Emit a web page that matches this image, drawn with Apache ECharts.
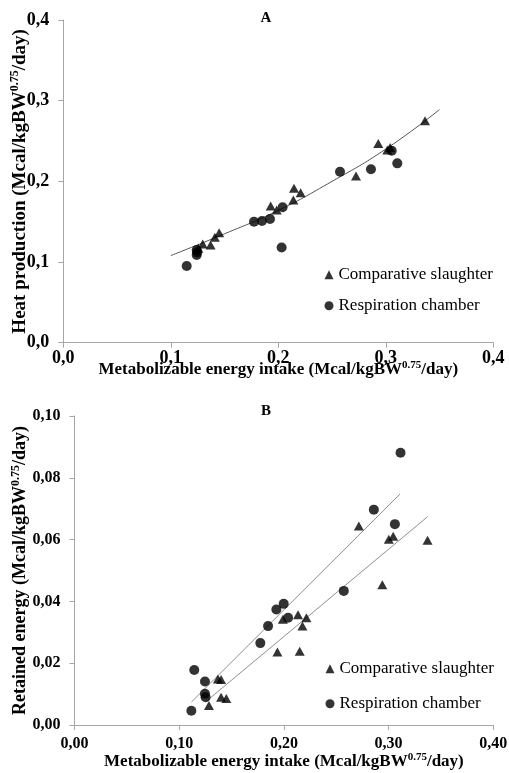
<!DOCTYPE html>
<html><head><meta charset="utf-8">
<script src="https://cdn.jsdelivr.net/npm/echarts@6/dist/echarts.min.js"></script>
<style>html,body{margin:0;padding:0;background:#fff}#c{width:509px;height:773px}</style>
</head><body><div id="c"></div>
<script>
// ---------- Panel A: Heat production ----------
const aCsX = [0.1256, 0.1297, 0.137, 0.141, 0.145, 0.1929, 0.1985, 0.214, 0.2146, 0.2208, 0.2723, 0.293, 0.3014, 0.304, 0.3365];
const aCsY = [0.117, 0.1223, 0.121, 0.1306, 0.1363, 0.1694, 0.1644, 0.1768, 0.1913, 0.1859, 0.2066, 0.247, 0.2388, 0.242, 0.2751];
const aRcX = [0.1148, 0.1241, 0.1241, 0.1245, 0.1774, 0.1848, 0.1923, 0.2031, 0.204, 0.2574, 0.2862, 0.3055, 0.3107];
const aRcY = [0.095, 0.1149, 0.1087, 0.112, 0.150, 0.1508, 0.1533, 0.118, 0.1678, 0.2119, 0.2149, 0.238, 0.2223];
const aCurveX = [0.10, 0.15, 0.20, 0.25, 0.30, 0.35];
const aCurveY = [0.108, 0.135, 0.164, 0.200, 0.240, 0.289];
// ---------- Panel B: Retained energy ----------
const bCsX = [0.1284, 0.137, 0.140, 0.140, 0.145, 0.1938, 0.199, 0.2135, 0.2151, 0.2177, 0.2215, 0.2716, 0.294, 0.3002, 0.3044, 0.3372];
const bCsY = [0.0063, 0.0149, 0.0147, 0.0090, 0.0086, 0.0236, 0.0342, 0.0357, 0.0239, 0.0320, 0.0347, 0.0644, 0.0454, 0.0601, 0.0611, 0.0598];
const bRcX = [0.1116, 0.1144, 0.1246, 0.1246, 0.1252, 0.1775, 0.1849, 0.1928, 0.1998, 0.204, 0.2572, 0.2859, 0.306, 0.3114];
const bRcY = [0.0046, 0.0178, 0.0141, 0.0101, 0.0090, 0.0265, 0.0320, 0.0374, 0.0392, 0.0347, 0.0434, 0.0697, 0.065, 0.0881];
const bRcLineX = [0.1116, 0.3108];
const bRcLineY = [0.0074, 0.0747];
const bCsLineX = [0.1259, 0.3372];
const bCsLineY = [0.0077, 0.0674];
// ---------- labels ----------
const csName = 'Comparative slaughter';
const rcName = 'Respiration chamber';
const xTitle = 'Metabolizable energy intake (Mcal/kgBW{s|0.75}/day)';
const yTitleA = 'Heat production (Mcal/kgBW{s|0.75}/day)';
const yTitleB = 'Retained energy (Mcal/kgBW{s|0.75}/day)';
const panelLabels = ['A', 'B'];

const zip = (xs, ys) => xs.map((x, i) => [x, ys[i]]);
const FF = '"Liberation Serif","Times New Roman",serif';
const GREY = '#a6a6a6';
const nameStyle = (size, lh, supSize) => ({
  fontFamily: FF, fontWeight: 'bold', fontSize: size, color: '#000', lineHeight: lh,
  rich: {s: {fontFamily: FF, fontWeight: 'bold', fontSize: supSize, verticalAlign: 'top', lineHeight: lh, color: '#000'}}
});
const fmt = (d) => (v) => v.toFixed(d).replace('.', ',');
const labelStyle = (size, d, margin) => ({fontFamily: FF, fontWeight: 'bold', fontSize: size, color: '#000', margin: margin, formatter: fmt(d)});
const axisCommon = {
  type: 'value', splitLine: {show: false}, nameMoveOverlap: false,
  axisLine: {show: true, lineStyle: {color: GREY, width: 1}},
  axisTick: {show: true, length: 5, lineStyle: {color: GREY}}
};

const chart = echarts.init(document.getElementById('c'));
chart.setOption({
  animation: false,
  backgroundColor: '#fff',
  grid: [
    {left: 63.3, top: 20, width: 430, height: 322.7, containLabel: false, outerBoundsMode: 'none'},
    {left: 74.5, top: 416, width: 418.8, height: 309, containLabel: false, outerBoundsMode: 'none'}
  ],
  xAxis: [
    Object.assign({gridIndex: 0, min: 0, max: 0.4, interval: 0.1,
      axisLabel: labelStyle(18, 1, 7),
      name: xTitle, nameLocation: 'middle', nameGap: 17, nameTextStyle: nameStyle(17, 20, 11)}, axisCommon),
    Object.assign({gridIndex: 1, min: 0, max: 0.4, interval: 0.1,
      axisLabel: labelStyle(16, 2, 11),
      name: xTitle, nameLocation: 'middle', nameGap: 27, nameTextStyle: nameStyle(17, 20, 11)}, axisCommon)
  ],
  yAxis: [
    Object.assign({gridIndex: 0, min: 0, max: 0.4, interval: 0.1,
      axisLabel: labelStyle(18, 1, 14),
      name: yTitleA, nameLocation: 'middle', nameGap: 32, nameRotate: 90, nameTextStyle: nameStyle(19, 22, 12)}, axisCommon),
    Object.assign({gridIndex: 1, min: 0, max: 0.1, interval: 0.02,
      axisLabel: labelStyle(16, 2, 14),
      name: yTitleB, nameLocation: 'middle', nameGap: 43, nameRotate: 90, nameTextStyle: nameStyle(18, 22, 12)}, axisCommon)
  ],
  legend: [
    {left: 319.5, top: 260.7, orient: 'vertical', itemGap: 13, itemWidth: 9, itemHeight: 9, selectedMode: false,
     data: [{name: csName, icon: 'triangle'}, {name: rcName, icon: 'circle'}],
     textStyle: {fontFamily: FF, fontSize: 17, color: '#000', lineHeight: 18}},
    {left: 320.5, top: 654.8, orient: 'vertical', itemGap: 17, itemWidth: 9, itemHeight: 9, selectedMode: false,
     data: [{name: csName, icon: 'triangle'}, {name: rcName, icon: 'circle'}],
     textStyle: {fontFamily: FF, fontSize: 17, color: '#000', lineHeight: 18}}
  ],
  graphic: [
    {type: 'text', x: 266, y: 18, style: {text: panelLabels[0], font: 'bold 15px ' + FF, fill: '#000', textAlign: 'center', textVerticalAlign: 'middle'}},
    {type: 'text', x: 266, y: 411, style: {text: panelLabels[1], font: 'bold 15px ' + FF, fill: '#000', textAlign: 'center', textVerticalAlign: 'middle'}}
  ],
  series: [
    {type: 'line', xAxisIndex: 0, yAxisIndex: 0, data: zip(aCurveX, aCurveY), smooth: true, showSymbol: false, silent: true,
     lineStyle: {color: '#555', width: 1}, z: 1},
    {type: 'line', xAxisIndex: 1, yAxisIndex: 1, data: zip(bRcLineX, bRcLineY), showSymbol: false, silent: true,
     lineStyle: {color: '#8f8f8f', width: 1}, z: 1},
    {type: 'line', xAxisIndex: 1, yAxisIndex: 1, data: zip(bCsLineX, bCsLineY), showSymbol: false, silent: true,
     lineStyle: {color: '#8f8f8f', width: 1}, z: 1},
    {name: csName, type: 'scatter', xAxisIndex: 0, yAxisIndex: 0, data: zip(aCsX, aCsY), symbol: 'triangle', symbolSize: [10, 9], itemStyle: {color: '#000'}, z: 3},
    {name: rcName, type: 'scatter', xAxisIndex: 0, yAxisIndex: 0, data: zip(aRcX, aRcY), symbol: 'circle', symbolSize: 10, itemStyle: {color: '#000'}, z: 4},
    {name: csName, type: 'scatter', xAxisIndex: 1, yAxisIndex: 1, data: zip(bCsX, bCsY), symbol: 'triangle', symbolSize: [10, 9], itemStyle: {color: '#000'}, z: 3},
    {name: rcName, type: 'scatter', xAxisIndex: 1, yAxisIndex: 1, data: zip(bRcX, bRcY), symbol: 'circle', symbolSize: 10, itemStyle: {color: '#000'}, z: 4}
  ]
});
</script></body></html>
